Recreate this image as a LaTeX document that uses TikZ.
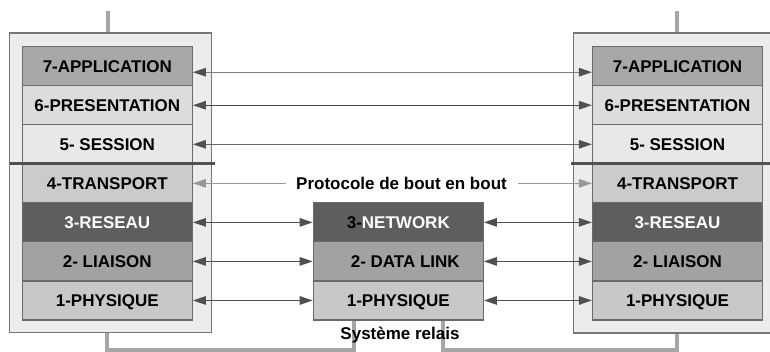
\documentclass[tikz,border=0pt]{standalone}
\usepackage{fontspec}
\setmainfont{Liberation Sans}
\usetikzlibrary{arrows.meta}
\definecolor{outerfill}{HTML}{ECECEC}
\definecolor{outerdraw}{HTML}{767676}
\definecolor{layerdraw}{HTML}{6A6A6A}
\definecolor{cA}{HTML}{A8A8AA}
\definecolor{cP}{HTML}{DCDCDC}
\definecolor{cS}{HTML}{E8E8E8}
\definecolor{cT}{HTML}{CBCBCB}
\definecolor{cR}{HTML}{5E5E61}
\definecolor{cL}{HTML}{A2A2A2}
\definecolor{cPh}{HTML}{C8C8C8}
\definecolor{wire}{HTML}{A6A6A6}
\definecolor{sep}{HTML}{505050}
\definecolor{arrdark}{HTML}{505050}
\definecolor{arrlight}{HTML}{989898}
\tikzset{
  layer/.style={draw=layerdraw, line width=1.2pt, minimum width=170pt, minimum height=39.04pt,
    inner sep=0pt, text height=12.2pt, text depth=0pt,
    font=\fontsize{17}{20}\selectfont\bfseries},
  outerbox/.style={fill=outerfill, draw=outerdraw, line width=1.2pt},
  wireline/.style={draw=wire, line width=4pt},
  sepline/.style={draw=sep, line width=3pt},
  dblarrow/.style={line width=1.3pt, {Triangle[length=13pt,width=8.5pt,color=arrdark]}-{Triangle[length=13pt,width=8.5pt,color=arrdark]}},
  onearrow/.style={line width=1.3pt, draw=arrlight, -{Triangle[length=13pt,width=8.5pt,color=arrlight]}},
  lbl/.style={font=\fontsize{17}{20}\selectfont\bfseries, inner sep=0pt, anchor=base}
}
\begin{document}
\begin{tikzpicture}[x=1pt,y=-1pt]
\useasboundingbox (0,0) rectangle (770,352);
% stubs and wires
\coordinate (tl) at (108,11);
\coordinate (tr) at (677,11);
\coordinate (tlb) at (108,33);
\coordinate (trb) at (677,33);
\draw[wireline] (tl) -- (tlb);
\draw[wireline] (tr) -- (trb);
\coordinate (bl) at (107,333);
\coordinate (br) at (677,333);
\coordinate (m1) at (354,320);
\coordinate (m2) at (443,320);
\draw[wireline] (bl) -- (107,349.5) -- (354,349.5) -- (m1);
\draw[wireline] (m2) -- (443,349.5) -- (677,349.5) -- (br);
% outer boxes
\path[outerbox] (9.5,33) rectangle (211.7,332.7);
\fill[outerfill] (573.3,33) rectangle (770,333);
\draw[draw=outerdraw, line width=1.2pt] (771,33) -- (573.3,33) -- (573.3,333) -- (771,333);
% left stack
\node[layer, fill=cA] (L7) at (107.3,66.22) {7-APPLICATION};
\node[layer, fill=cP] (L6) at (107.3,105.26) {6-PRESENTATION};
\node[layer, fill=cS] (L5) at (107.3,144.30) {5- SESSION};
\node[layer, fill=cT] (L4) at (107.3,183.34) {4-TRANSPORT};
\node[layer, fill=cR, text=white] (L3) at (107.3,222.38) {3-RESEAU};
\node[layer, fill=cL] (L2) at (107.3,261.42) {2- LIAISON};
\node[layer, fill=cPh] (L1) at (107.3,300.46) {1-PHYSIQUE};
% right stack
\node[layer, fill=cA] (R7) at (677.5,66.22) {7-APPLICATION};
\node[layer, fill=cP] (R6) at (677.5,105.26) {6-PRESENTATION};
\node[layer, fill=cS] (R5) at (677.5,144.30) {5- SESSION};
\node[layer, fill=cT] (R4) at (677.5,183.34) {4-TRANSPORT};
\node[layer, fill=cR, text=white] (R3) at (677.5,222.38) {3-RESEAU};
\node[layer, fill=cL] (R2) at (677.5,261.42) {2- LIAISON};
\node[layer, fill=cPh] (R1) at (677.5,300.46) {1-PHYSIQUE};
% relay stack
\node[layer, fill=cR] (M3) at (398.3,222.38) {3-\textcolor{white}{NETWORK}};
\node[layer, fill=cL] (M2) at (398.3,261.42) {\hspace*{14pt}2- DATA LINK};
\node[layer, fill=cPh] (M1) at (398.3,300.46) {1-PHYSIQUE};
% separators
\coordinate (sl1) at (9.5,163.4);
\coordinate (sl2) at (215,163.4);
\coordinate (sr1) at (571,163.4);
\coordinate (sr2) at (770,163.4);
\draw[sepline] (sl1) -- (sl2);
\draw[sepline] (sr1) -- (sr2);
% arrows upper layers
\draw[dblarrow, draw=black!50] ([yshift=-6pt]L7.east) -- ([yshift=-6pt]R7.west);
\draw[dblarrow, draw=black!72] (L6.east) -- (R6.west);
\draw[dblarrow, draw=black!60] (L5.east) -- (R5.west);
% transport
\node[lbl] (proto) at (401.5,190) {Protocole de bout en bout};
\coordinate (pl) at (286,183.34);
\coordinate (pr) at (518,183.34);
\draw[onearrow] (pl) -- (L4.east);
\draw[onearrow] (pr) -- (R4.west);
% lower layers
\draw[dblarrow, draw=arrdark] (L3.east) -- (M3.west);
\draw[dblarrow, draw=arrdark] (M3.east) -- (R3.west);
\draw[dblarrow, draw=arrdark] (L2.east) -- (M2.west);
\draw[dblarrow, draw=arrdark] (M2.east) -- (R2.west);
\draw[dblarrow, draw=arrdark] (L1.east) -- (M1.west);
\draw[dblarrow, draw=arrdark] (M1.east) -- (R1.west);
% relay label
\node[lbl] (relais) at (400,339) {Système relais};
\end{tikzpicture}
\end{document}
